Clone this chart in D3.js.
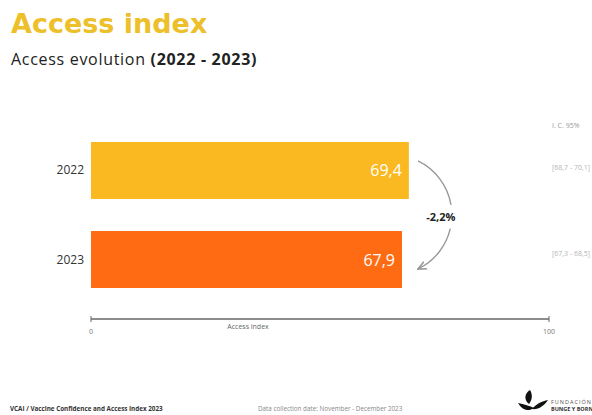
<!DOCTYPE html>
<html><head><meta charset="utf-8">
<script src="https://cdn.jsdelivr.net/npm/d3@7"></script>
<style>body{margin:0;background:#fff}svg{display:block}</style>
</head><body>
<script>
const years = ["2022", "2023"];
const values = [69.4, 67.9];
const valueLabels = ["69,4", "67,9"];
const ciLabels = ["[68,7 - 70,1]", "[67,3 - 68,5]"];
const barColors = ["#FBB921", "#FF6B12"];
const axisTicks = [0, 100];
const changeLabel = "-2,2%";

const W = 592, H = 415;
const svg = d3.select("body").append("svg").attr("width", W).attr("height", H);
const font = "Open Sans, Lato, sans-serif";

// Titles
svg.append("text").attr("x", 11).attr("y", 33).attr("font-family", "DejaVu Sans, sans-serif")
  .attr("font-weight", 700).attr("font-size", 27).attr("fill", "#EDBF2B").text("Access index");
const sub = svg.append("text").attr("x", 11).attr("y", 65).attr("font-family", font)
  .attr("font-size", 16).attr("letter-spacing", 0.7).attr("fill", "#222");
sub.append("tspan").text("Access evolution ");
sub.append("tspan").attr("font-weight", 700).text("(2022 - 2023)");

const x = d3.scaleLinear().domain([0, 100]).range([91, 549]);
const y = d3.scaleBand().domain(years).range([115.3, 314.7]).paddingInner(0.36).paddingOuter(0.3);

// Bars
svg.selectAll("rect.bar").data(years).join("rect").attr("class", "bar")
  .attr("x", x(0)).attr("y", d => y(d))
  .attr("width", (d, i) => x(values[i]) - x(0)).attr("height", y.bandwidth())
  .attr("fill", (d, i) => barColors[i]);

// value labels
svg.selectAll("text.val").data(years).join("text").attr("class", "val")
  .attr("x", (d, i) => x(values[i]) - 7).attr("y", d => y(d) + y.bandwidth() / 2 + 6)
  .attr("text-anchor", "end").attr("font-family", font).attr("font-size", 16)
  .attr("fill", "#fff").text((d, i) => valueLabels[i]);

// year labels
svg.selectAll("text.yr").data(years).join("text").attr("class", "yr")
  .attr("x", 84).attr("y", d => y(d) + y.bandwidth() / 2 + 4)
  .attr("text-anchor", "end").attr("font-family", font).attr("font-size", 12)
  .attr("fill", "#333").text(d => d);

// CI
svg.append("text").attr("x", 552).attr("y", 128).attr("font-family", font).attr("font-size", 7)
  .attr("fill", "#999").text("I. C. 95%");
svg.selectAll("text.ci").data(years).join("text").attr("class", "ci")
  .attr("x", 552).attr("y", (d, i) => y(d) + y.bandwidth() / 2 + (i === 0 ? 0 : -4))
  .attr("font-family", font).attr("font-size", 7).attr("fill", "#b5b5b5")
  .text((d, i) => ciLabels[i]);

// Arc annotation
const defs = svg.append("defs");
defs.append("marker").attr("id", "ah").attr("viewBox", "0 0 10 10").attr("refX", 8).attr("refY", 5)
  .attr("markerWidth", 7).attr("markerHeight", 7).attr("orient", "auto-start-reverse")
  .append("path").attr("d", "M0,1 L9,5 L0,9").attr("fill", "none").attr("stroke", "#999").attr("stroke-width", 1.6);
const cx = x(values[0]) - 17, cy = (y(years[0]) + y(years[1]) + y.bandwidth()) / 2, r = 60;
const pt = a => [cx + r * Math.sin(a), cy - r * Math.cos(a)];
function arcPath(a0, a1) {
  const p0 = pt(a0), p1 = pt(a1);
  return `M${p0[0]},${p0[1]} A${r},${r} 0 0 1 ${p1[0]},${p1[1]}`;
}
svg.append("path").attr("d", arcPath(0.45, 1.4)).attr("fill", "none").attr("stroke", "#999").attr("stroke-width", 1.4);
svg.append("path").attr("d", arcPath(1.8, 2.68)).attr("fill", "none").attr("stroke", "#999").attr("stroke-width", 1.4)
  .attr("marker-end", "url(#ah)");
svg.append("text").attr("x", cx + r - 11).attr("y", cy + 6).attr("text-anchor", "middle")
  .attr("font-family", font).attr("font-weight", 700).attr("font-size", 11).attr("fill", "#222").text(changeLabel);

// Axis
const ay = 319;
svg.append("line").attr("x1", x(0)).attr("x2", x(100)).attr("y1", ay).attr("y2", ay)
  .attr("stroke", "#666").attr("stroke-width", 1.3);
svg.selectAll("line.tk").data(axisTicks).join("line").attr("class", "tk")
  .attr("x1", d => x(d)).attr("x2", d => x(d)).attr("y1", ay - 3).attr("y2", ay + 3)
  .attr("stroke", "#666").attr("stroke-width", 1);
svg.selectAll("text.tkl").data(axisTicks).join("text").attr("class", "tkl")
  .attr("x", d => x(d)).attr("y", ay + 15).attr("text-anchor", "middle")
  .attr("font-family", font).attr("font-size", 7).attr("fill", "#777").text(d => d);
svg.append("text").attr("x", 248).attr("y", ay + 10).attr("text-anchor", "middle")
  .attr("font-family", font).attr("font-size", 7).attr("fill", "#666").text("Access index");

// Footer
svg.append("text").attr("x", 10).attr("y", 411).attr("font-family", font).attr("font-weight", 700)
  .attr("font-size", 6.3).attr("fill", "#333").text("VCAI / Vaccine Confidence and Access Index 2023");
svg.append("text").attr("x", 258).attr("y", 411).attr("font-family", font)
  .attr("font-size", 6.3).attr("fill", "#888").text("Data collection date: November - December 2023");
// logo
const lg = svg.append("g").attr("transform", "translate(518,390)").attr("fill", "#111");
lg.append("path").attr("d", "M12,0 C6,4 6,10 11,14 C14,10 15,5 12,0 Z");
lg.append("path").attr("d", "M0,13 C4,20 10,22 16,18 C12,16 6,14 0,13 Z");
lg.append("path").attr("d", "M14,19 C20,20 26,16 30,10 C24,11 18,14 14,19 Z");
svg.append("text").attr("x", 551).attr("y", 404).attr("font-family", font).attr("font-size", 5.5)
  .attr("letter-spacing", 1).attr("fill", "#555").text("FUNDACIÓN");
svg.append("text").attr("x", 551).attr("y", 411).attr("font-family", font).attr("font-weight", 700)
  .attr("font-size", 5.5).attr("fill", "#333").text("BUNGE Y BORN");
</script>
</body></html>
